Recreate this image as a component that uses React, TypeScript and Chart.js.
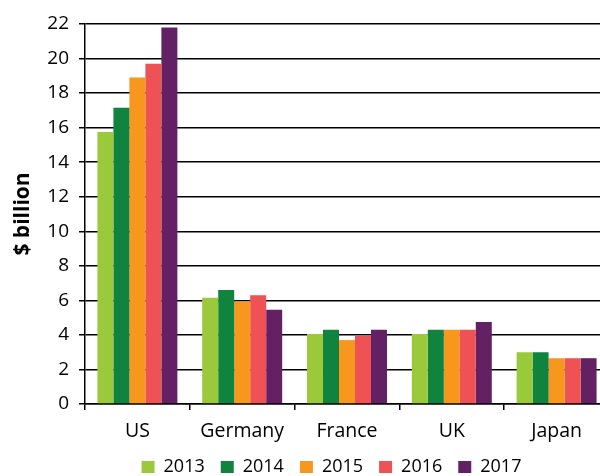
import { useEffect, useRef } from 'react';
import { Chart, registerables } from 'chart.js';

Chart.register(...registerables);

const categories = ['US', 'Germany', 'France', 'UK', 'Japan'];
const seriesLabels = ['2013', '2014', '2015', '2016', '2017'];
const values2013 = [15.75, 6.15, 4.05, 4.05, 3.0];
const values2014 = [17.15, 6.6, 4.3, 4.3, 3.0];
const values2015 = [18.9, 5.95, 3.7, 4.3, 2.65];
const values2016 = [19.7, 6.3, 3.95, 4.3, 2.65];
const values2017 = [21.8, 5.45, 4.3, 4.75, 2.65];
const seriesColors = ['#9aca3c', '#10833f', '#f7971e', '#ee5254', '#632063'];
const yMin = 0;
const yMax = 22;
const yStep = 2;
const yTitle = '$ billion';

const FONT = "'Open Sans', 'Noto Sans', sans-serif";

const legendShift = {
  id: 'legendShift',
  afterLayout(chart: any) {
    const lg = chart.legend;
    if (!lg) return;
    const dx = 27;
    const dy = -4;
    lg.left += dx;
    lg.right += dx;
    lg.top += dy;
    lg.bottom += dy;
  },
};

export default function App() {
  const ref = useRef<HTMLCanvasElement>(null);
  useEffect(() => {
    if (!ref.current) return;
    const allValues = [values2013, values2014, values2015, values2016, values2017];
    const chart = new Chart(ref.current, {
      type: 'bar',
      data: {
        labels: categories,
        datasets: seriesLabels.map((label, i) => ({
          label,
          data: allValues[i],
          backgroundColor: seriesColors[i],
          borderWidth: 0,
          categoryPercentage: 0.763,
          barPercentage: 1.0,
        })),
      },
      options: {
        responsive: false,
        animation: false,
        devicePixelRatio: 1,
        layout: { padding: { top: 24, right: 3, left: 0, bottom: 0 } },
        plugins: {
          legend: {
            position: 'bottom',
            labels: {
              boxWidth: 13,
              boxHeight: 12,
              padding: 16,
              color: '#000',
              font: { family: FONT, size: 18 },
            },
          },
          tooltip: { enabled: false },
        },
        scales: {
          x: {
            grid: {
              display: true,
              drawOnChartArea: false,
              drawTicks: true,
              tickLength: 6,
              color: '#000',
              lineWidth: 1.5,
              offset: true,
            },
            border: { color: '#000', width: 1.5 },
            ticks: { color: '#000', padding: 10, font: { family: FONT, size: 19.5 } },
            afterFit: (s: any) => {
              s.height = 42;
            },
          },
          y: {
            min: yMin,
            max: yMax,
            ticks: { stepSize: yStep, color: '#000', padding: 10, font: { family: FONT, size: 19 } },
            grid: { color: '#000', lineWidth: 1.5, tickLength: 6, drawTicks: true },
            border: { color: '#000', width: 1.5 },
            title: {
              display: true,
              text: yTitle,
              color: '#000',
              font: { family: FONT, size: 21, weight: 'bold' },
              padding: { top: 10, bottom: 0 },
            },
            afterFit: (s: any) => {
              s.width = 85;
            },
          },
        },
      },
      plugins: [legendShift],
    });
    return () => chart.destroy();
  }, []);
  return (
    <div
      style={{
        position: 'absolute',
        left: 0,
        top: 0,
        width: 600,
        height: 476,
        overflow: 'hidden',
        background: '#fff',
      }}
    >
      <canvas ref={ref} width={612} height={490} style={{ display: 'block', width: 612, height: 490 }} />
    </div>
  );
}
